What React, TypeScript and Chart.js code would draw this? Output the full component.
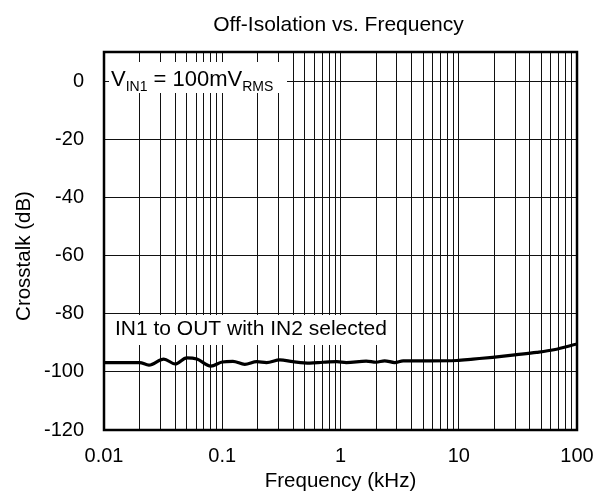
import React, { useEffect, useRef } from "react";
import { Chart, registerables } from "chart.js";

Chart.register(...registerables);

const TITLE = "Off-Isolation vs. Frequency";
const X_TITLE = "Frequency (kHz)";
const Y_TITLE = "Crosstalk (dB)";
const SERIES_LABEL = "IN1 to OUT with IN2 selected";

const FREQ_KHZ = [
  0.01, 0.015, 0.02, 0.024, 0.032, 0.04, 0.05, 0.061, 0.08, 0.1, 0.123, 0.155,
  0.196, 0.237, 0.307, 0.396, 0.55, 0.71, 0.93, 1.12, 1.65, 2.0, 2.36, 2.87,
  3.39, 5.7, 9.6, 13.2, 19.3, 30.9, 45.6, 63.6, 100,
];
const CROSSTALK_DB = [
  -96.8, -96.8, -96.8, -97.7, -95.6, -97.3, -95.2, -95.6, -98.0, -96.6, -96.4,
  -97.4, -96.5, -96.8, -95.9, -96.5, -97.0, -96.7, -96.5, -96.8, -96.3, -96.7,
  -96.2, -96.8, -96.2, -96.2, -96.1, -95.6, -95.0, -94.1, -93.3, -92.4, -90.4,
];

const X_DECADES = [0.01, 0.1, 1, 10, 100];
const X_DECADE_LABELS = ["0.01", "0.1", "1", "10", "100"];
const Y_TICKS = [-120, -100, -80, -60, -40, -20, 0];
const Y_MIN = -120;
const Y_MAX = 10;

const FONT = "'Liberation Sans', Arial, sans-serif";

// log grid: 1..9 x each decade
const X_GRID: number[] = [];
for (let d = 0; d < X_DECADES.length - 1; d++) {
  for (let m = 1; m <= 9; m++) X_GRID.push(X_DECADES[d] * m);
}
X_GRID.push(X_DECADES[X_DECADES.length - 1]);

const decorPlugin = {
  id: "decor",
  beforeDatasetsDraw(chart: any) {
    const ctx = chart.ctx;
    ctx.save();
    // annotation 1: V_IN1 = 100mV_RMS
    ctx.fillStyle = "#fff";
    ctx.fillRect(109, 62, 178, 31);
    ctx.fillStyle = "#000";
    ctx.textBaseline = "alphabetic";
    ctx.textAlign = "left";
    let x = 111;
    const big = `22px ${FONT}`;
    const small = `14px ${FONT}`;
    const parts: [string, string, number][] = [
      ["V", big, 86],
      ["IN1", small, 91],
      [" = 100mV", big, 86],
      ["RMS", small, 91],
    ];
    for (const [t, f, y] of parts) {
      ctx.font = f;
      ctx.fillText(t, x, y);
      x += ctx.measureText(t).width;
    }
    // annotation 2
    ctx.font = `21px ${FONT}`;
    const w = ctx.measureText(SERIES_LABEL).width;
    ctx.fillStyle = "#fff";
    ctx.fillRect(112, 315, w + 12, 30);
    ctx.fillStyle = "#000";
    ctx.fillText(SERIES_LABEL, 115, 335);
    ctx.restore();
  },
  afterDraw(chart: any) {
    const ctx = chart.ctx;
    const a = chart.chartArea;
    ctx.save();
    ctx.strokeStyle = "#000";
    ctx.lineWidth = 2.5;
    ctx.strokeRect(a.left, a.top, a.right - a.left, a.bottom - a.top);
    ctx.fillStyle = "#000";
    // title
    ctx.font = `21px ${FONT}`;
    ctx.textAlign = "center";
    ctx.textBaseline = "alphabetic";
    ctx.fillText(TITLE, (a.left + a.right) / 2 - 2, 31);
    // x title
    ctx.font = `20.5px ${FONT}`;
    ctx.fillText(X_TITLE, (a.left + a.right) / 2, 487);
    // y title
    ctx.translate(23, 256);
    ctx.rotate(-Math.PI / 2);
    ctx.fillText(Y_TITLE, 0, 7);
    ctx.restore();
  },
};

export default function App() {
  const ref = useRef<HTMLCanvasElement | null>(null);
  useEffect(() => {
    if (!ref.current) return;
    const chart = new Chart(ref.current, {
      type: "line",
      data: {
        datasets: [
          {
            label: SERIES_LABEL,
            data: FREQ_KHZ.map((f, i) => ({ x: f, y: CROSSTALK_DB[i] })),
            borderColor: "#000",
            borderWidth: 3.2,
            pointRadius: 0,
            cubicInterpolationMode: "monotone",
            fill: false,
          },
        ],
      },
      options: {
        responsive: false,
        animation: false,
        devicePixelRatio: 1,
        layout: { padding: { top: 52, right: 17, left: 0, bottom: 0 } },
        plugins: {
          legend: { display: false },
          tooltip: { enabled: false },
          title: { display: false },
        },
        scales: {
          x: {
            type: "logarithmic",
            min: 0.01,
            max: 100,
            afterBuildTicks: (s: any) => {
              s.ticks = X_GRID.map((v) => ({ value: v }));
            },
            afterFit: (s: any) => {
              s.height = 70;
              s.paddingLeft = 0;
              s.paddingRight = 0;
            },
            grid: { color: "#111", lineWidth: 1, drawTicks: false, tickLength: 0 },
            border: { display: false },
            ticks: {
              autoSkip: false,
              maxRotation: 0,
              minRotation: 0,
              padding: 14,
              color: "#000",
              font: { family: FONT, size: 20 },
              callback: (v: any) => {
                const idx = X_DECADES.findIndex(
                  (d) => Math.abs(Math.log10(Number(v)) - Math.log10(d)) < 1e-6
                );
                return idx >= 0 ? X_DECADE_LABELS[idx] : "";
              },
            },
          },
          y: {
            type: "linear",
            min: Y_MIN,
            max: Y_MAX,
            afterBuildTicks: (s: any) => {
              s.ticks = Y_TICKS.map((v) => ({ value: v }));
            },
            afterFit: (s: any) => {
              s.width = 104;
              s.paddingTop = 0;
              s.paddingBottom = 0;
            },
            grid: { color: "#111", lineWidth: 1, drawTicks: false, tickLength: 0 },
            border: { display: false },
            ticks: {
              padding: 20,
              color: "#000",
              font: { family: FONT, size: 20 },
              callback: (v: any) => String(v),
            },
          },
        },
      },
      plugins: [decorPlugin],
    });
    return () => chart.destroy();
  }, []);
  return (
    <div style={{ position: "absolute", left: 0, top: 0, width: 594, height: 500, background: "#fff" }}>
      <canvas ref={ref} width={594} height={500} style={{ display: "block" }} />
    </div>
  );
}
